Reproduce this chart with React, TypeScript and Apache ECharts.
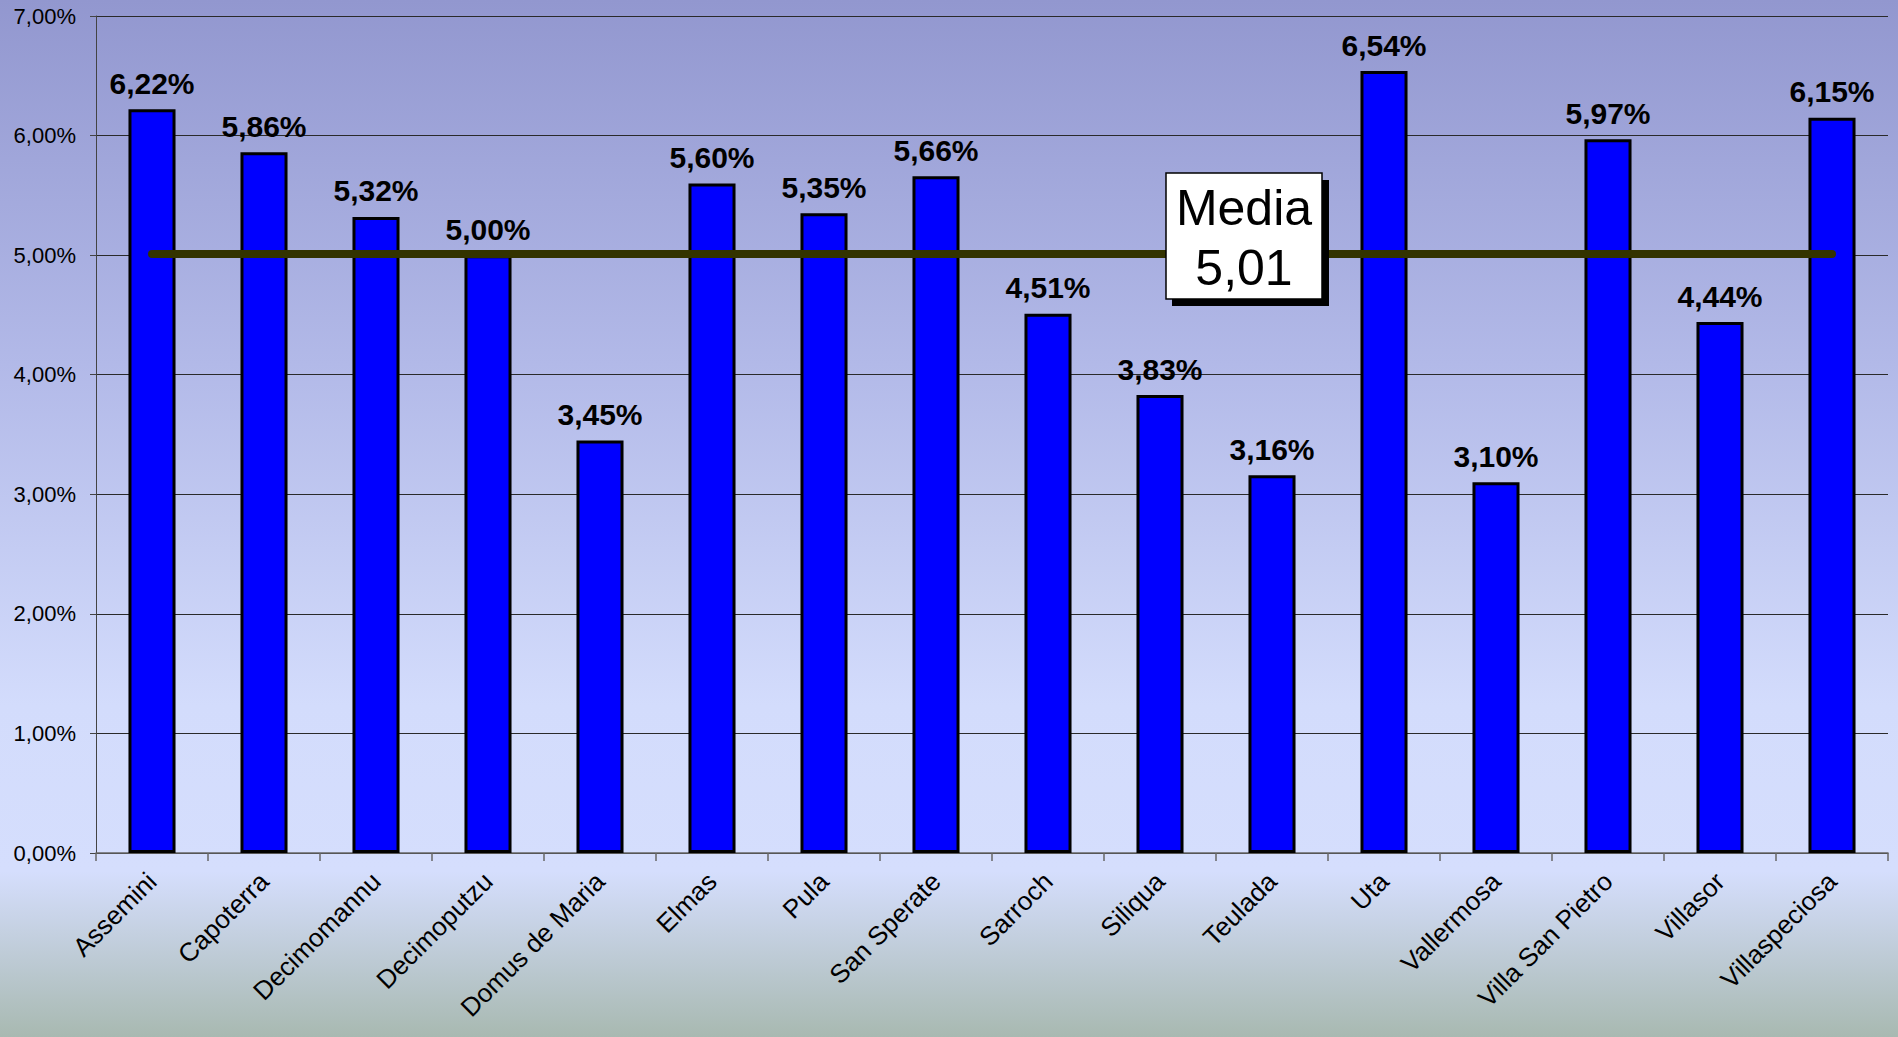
import React, { useEffect, useRef } from "react";
import * as echarts from "echarts";

const categories = [
  "Assemini", "Capoterra", "Decimomannu", "Decimoputzu", "Domus de Maria", "Elmas", "Pula",
  "San Sperate", "Sarroch", "Siliqua", "Teulada", "Uta", "Vallermosa", "Villa San Pietro",
  "Villasor", "Villaspeciosa",
];
const values = [6.22, 5.86, 5.32, 5.0, 3.45, 5.6, 5.35, 5.66, 4.51, 3.83, 3.16, 6.54, 3.1, 5.97, 4.44, 6.15];
const mediaValue = 5.01;
const mediaLabel = ["Media", "5,01"];
const yTicks = { min: 0, max: 7, interval: 1 };

const fmt = (v: number) => v.toFixed(2).replace(".", ",") + "%";

export default function App() {
  const ref = useRef<HTMLDivElement>(null);
  useEffect(() => {
    document.body.style.margin = "0";
    const chart = echarts.init(ref.current!, null, { renderer: "svg" });
    const font = "'Liberation Sans', Arial, sans-serif";
    chart.setOption({
      animation: false,
      backgroundColor: {
        type: "linear", x: 0, y: 0, x2: 0, y2: 1,
        colorStops: [
          { offset: 0, color: "#9297cf" },
          { offset: 0.35, color: "#b2b9e8" },
          { offset: 0.68, color: "#d3dcfc" },
          { offset: 0.84, color: "#d5defd" },
          { offset: 1, color: "#a8b9b1" },
        ],
      },
      textStyle: { fontFamily: font },
      grid: { left: 96, right: 10, top: 16, bottom: 184, containLabel: false },
      xAxis: {
        type: "category",
        data: categories,
        axisLine: { lineStyle: { color: "#666", width: 1.5 } },
        axisTick: { show: true, length: 8, lineStyle: { color: "#666", width: 1.5 } },
        axisLabel: { rotate: 45, fontSize: 26, color: "#000", margin: 24, fontFamily: font, interval: 0 },
      },
      yAxis: {
        type: "value",
        min: yTicks.min, max: yTicks.max, interval: yTicks.interval,
        axisLine: { show: true, lineStyle: { color: "#444", width: 1 } },
        axisTick: { show: true, length: 6, lineStyle: { color: "#444" } },
        splitLine: { lineStyle: { color: "#2a2a2a", width: 1 } },
        axisLabel: { fontSize: 22, color: "#000", margin: 20, fontFamily: font, formatter: (v: number) => fmt(v) },
      },
      series: [
        {
          type: "bar",
          data: values,
          barWidth: "42%",
          itemStyle: { color: "#0000ff", borderColor: "#000", borderWidth: 3 },
          label: {
            show: true, position: "top", distance: 11,
            fontSize: 30, fontWeight: "bold", color: "#000", fontFamily: font,
            formatter: (p: any) => fmt(p.value),
          },
          z: 2,
        },
        {
          type: "line",
          data: categories.map(() => mediaValue),
          symbol: "none",
          lineStyle: { color: "#333300", width: 8, cap: "round" },
          z: 3,
        },
      ],
      graphic: [
        { type: "rect", shape: { x: 1172, y: 180, width: 157, height: 126 }, style: { fill: "#000" }, z: 10 },
        { type: "rect", shape: { x: 1166, y: 173, width: 156, height: 126 }, style: { fill: "#fff", stroke: "#000", lineWidth: 1.5 }, z: 11 },
        {
          type: "text", x: 1244, y: 238, z: 12,
          style: {
            text: mediaLabel.join("\n"), fontSize: 50, lineHeight: 60, fill: "#000",
            fontFamily: font, align: "center", verticalAlign: "middle",
          },
        },
      ],
    });
    return () => chart.dispose();
  }, []);
  return <div ref={ref} style={{ position: "fixed", left: 0, top: 0, width: 1898, height: 1037 }} />;
}
